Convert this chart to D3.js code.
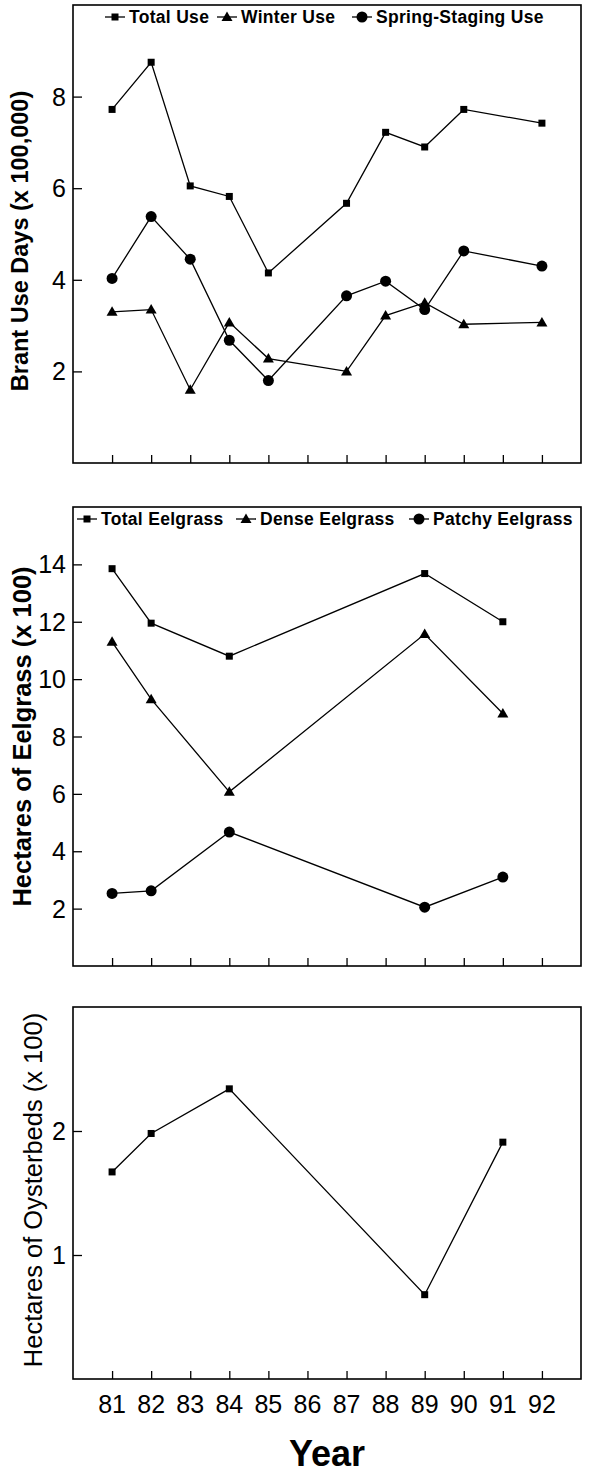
<!DOCTYPE html>
<html>
<head>
<meta charset="utf-8">
<script src="https://cdn.jsdelivr.net/npm/d3@7"></script>
<style>
  body { margin: 0; background: #fff; }
  svg { display: block; font-family: "Liberation Sans", Arial, sans-serif; }
</style>
</head>
<body>
<div id="chart"></div>
<script>
// years shown on the shared x axis
const years = [81, 82, 83, 84, 85, 86, 87, 88, 89, 90, 91, 92];

// panel 1: brant use days (x 100,000)
const useYears = [81, 82, 83, 84, 85, 87, 88, 89, 90, 92];
const totalUse = [7.72, 8.75, 6.05, 5.82, 4.15, 5.67, 7.22, 6.9, 7.72, 7.42];
const winterUse = [3.3, 3.35, 1.6, 3.07, 2.28, 2.0, 3.22, 3.5, 3.03, 3.07];
const springUse = [4.03, 5.38, 4.45, 2.68, 1.8, 3.65, 3.97, 3.35, 4.63, 4.3];

// panel 2: hectares of eelgrass (x 100)
const grassYears = [81, 82, 84, 89, 91];
const totalGrass = [13.85, 11.95, 10.8, 13.68, 12.0];
const denseGrass = [11.3, 9.3, 6.07, 11.57, 8.8];
const patchyGrass = [2.53, 2.62, 4.67, 2.05, 3.1];

// panel 3: hectares of oysterbeds (x 100)
const oysterYears = [81, 82, 84, 89, 91];
const oysterbeds = [1.67, 1.98, 2.34, 0.68, 1.91];

const width = 594, height = 1475;
const left = 73, right = 581;

const svg = d3.select("#chart").append("svg")
    .attr("width", width)
    .attr("height", height);

const x = d3.scaleLinear().domain([80, 93]).range([left, right]);

const panels = [
    { top: 5, bottom: 463, max: 10, ticks: [2, 4, 6, 8],
      title: "Brant Use Days (x 100,000)", titleWeight: "bold", titleSize: 23.5, titleX: 28, titleDy: 7,
      legend: ["Total Use", "Winter Use", "Spring-Staging Use"], legendX: [105, 217, 352],
      series: [
        { name: "square", xs: useYears, ys: totalUse },
        { name: "triangle", xs: useYears, ys: winterUse },
        { name: "circle", xs: useYears, ys: springUse }
      ] },
    { top: 507, bottom: 966, max: 16, ticks: [2, 4, 6, 8, 10, 12, 14],
      title: "Hectares of Eelgrass (x 100)", titleWeight: "bold", titleSize: 25.5, titleX: 31, titleDy: 0,
      legend: ["Total Eelgrass", "Dense Eelgrass", "Patchy Eelgrass"], legendX: [77, 236, 409],
      series: [
        { name: "square", xs: grassYears, ys: totalGrass },
        { name: "triangle", xs: grassYears, ys: denseGrass },
        { name: "circle", xs: grassYears, ys: patchyGrass }
      ] },
    { top: 1007, bottom: 1379, max: 3, ticks: [1, 2],
      title: "Hectares of Oysterbeds (x 100)", titleWeight: "normal", titleSize: 25.5, titleX: 42, titleDy: -3,
      legend: [], legendX: [],
      series: [
        { name: "square", xs: oysterYears, ys: oysterbeds }
      ] }
];

function marker(g, type, cx, cy) {
    if (type === "square") {
        g.append("rect").attr("x", cx - 3.5).attr("y", cy - 3.5)
            .attr("width", 7).attr("height", 7).attr("fill", "#000");
    } else if (type === "triangle") {
        g.append("path")
            .attr("d", `M${cx},${cy - 5.5}L${cx + 5.5},${cy + 4}L${cx - 5.5},${cy + 4}Z`)
            .attr("fill", "#000");
    } else {
        g.append("circle").attr("cx", cx).attr("cy", cy).attr("r", 5.5).attr("fill", "#000");
    }
}

panels.forEach(p => {
    const y = d3.scaleLinear().domain([0, p.max]).range([p.bottom, p.top]);
    const g = svg.append("g");

    // frame
    g.append("rect")
        .attr("x", left).attr("y", p.top)
        .attr("width", right - left).attr("height", p.bottom - p.top)
        .attr("fill", "none").attr("stroke", "#000").attr("stroke-width", 1.6);

    // x ticks pointing inward
    g.append("g")
        .attr("transform", `translate(0,${p.bottom})`)
        .call(d3.axisTop(x).tickValues(years).tickSize(8).tickFormat(""))
        .call(a => a.select(".domain").remove())
        .call(a => a.selectAll("line").attr("stroke-width", 1.3));

    // y ticks pointing inward
    g.append("g")
        .attr("transform", `translate(${left},0)`)
        .call(d3.axisRight(y).tickValues(p.ticks).tickSize(9).tickFormat(""))
        .call(a => a.select(".domain").remove())
        .call(a => a.selectAll("line").attr("stroke-width", 1.3));

    // y tick labels
    g.selectAll(".ylab")
        .data(p.ticks)
        .join("text")
        .attr("x", left - 7)
        .attr("y", d => y(d) + 9)
        .attr("text-anchor", "end")
        .attr("font-size", 25)
        .text(d => d);

    // axis title
    g.append("text")
        .attr("transform", `translate(${p.titleX},${(p.top + p.bottom) / 2 + p.titleDy}) rotate(-90)`)
        .attr("text-anchor", "middle")
        .attr("font-size", p.titleSize)
        .attr("font-weight", p.titleWeight)
        .text(p.title);

    const line = d3.line().x(d => x(d[0])).y(d => y(d[1]));

    p.series.forEach(s => {
        const pts = s.xs.map((v, i) => [v, s.ys[i]]);
        g.append("path")
            .attr("d", line(pts))
            .attr("fill", "none")
            .attr("stroke", "#000")
            .attr("stroke-width", 1.3);
        const mg = g.append("g");
        pts.forEach(d => marker(mg, s.name, x(d[0]), y(d[1])));
    });

    // legend
    p.legend.forEach((name, i) => {
        const lx = p.legendX[i], ly = p.top + 12;
        g.append("line")
            .attr("x1", lx).attr("x2", lx + 20)
            .attr("y1", ly).attr("y2", ly)
            .attr("stroke", "#000").attr("stroke-width", 1.3);
        const lg = g.append("g");
        marker(lg, p.series[i].name, lx + 10, ly);
        g.append("text")
            .attr("x", lx + 24)
            .attr("y", ly + 6)
            .attr("font-size", 17.5)
            .attr("font-weight", "bold")
            .attr("letter-spacing", 0.3)
            .text(name);
    });
});

// x tick labels under bottom panel
const last = panels[panels.length - 1];
svg.selectAll(".xlab")
    .data(years)
    .join("text")
    .attr("x", d => x(d))
    .attr("y", last.bottom + 34)
    .attr("text-anchor", "middle")
    .attr("font-size", 25)
    .text(d => d);

svg.append("text")
    .attr("x", (left + right) / 2)
    .attr("y", 1466)
    .attr("text-anchor", "middle")
    .attr("font-size", 36)
    .attr("font-weight", "bold")
    .text("Year");
</script>
</body>
</html>
